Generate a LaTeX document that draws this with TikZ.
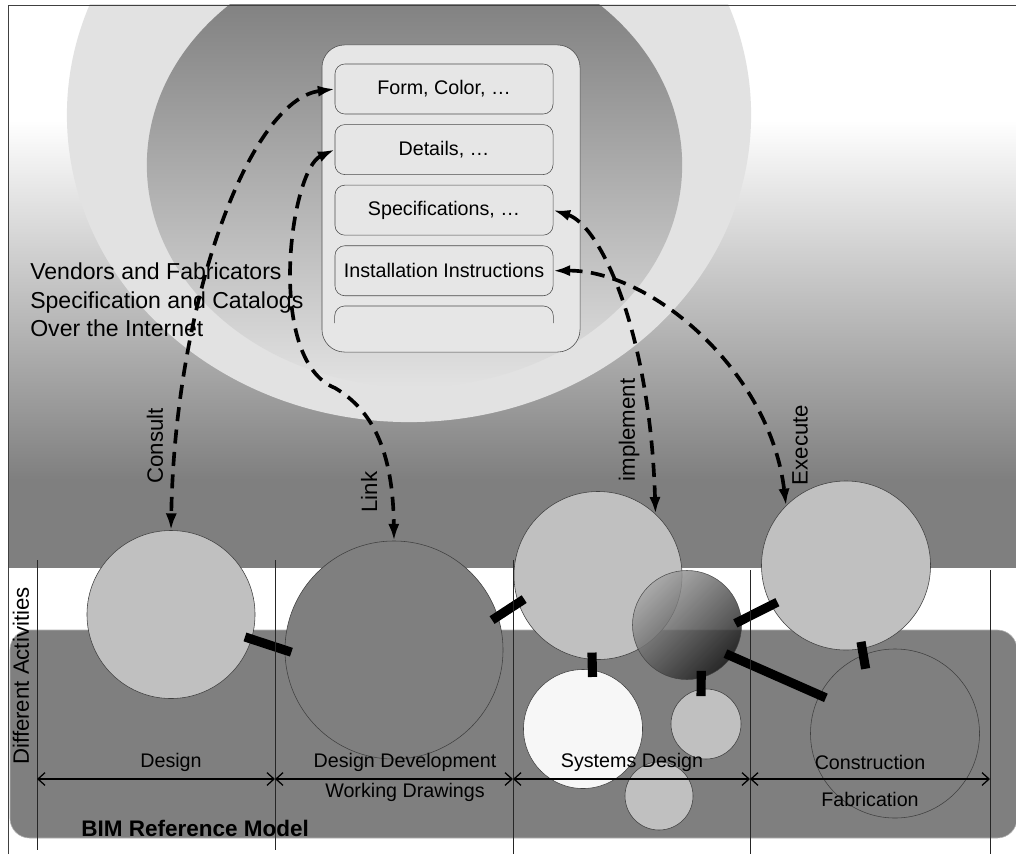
\documentclass[tikz,border=0pt]{standalone}
\usepackage{fontspec}
\setmainfont{Liberation Sans}
\usepackage{tikz}
\usetikzlibrary{positioning, shapes.geometric, arrows.meta, calc}

\definecolor{bggray}{HTML}{7F7F7F}
\definecolor{halo}{HTML}{E2E2E2}
\definecolor{boxfill}{HTML}{E6E6E6}
\definecolor{lightdisc}{HTML}{C0C0C0}

\begin{document}
\begin{tikzpicture}[
    x=0.025cm, y=-0.025cm,
    node distance=0.25cm,
    itembox/.style={rectangle, draw=black!70, fill=boxfill, rounded corners=7pt, minimum width=5.45cm, minimum height=1.25cm, inner sep=0pt, font=\fontsize{14}{16}\selectfont},
    disc/.style={circle, draw=black!75, thin, inner sep=0pt},
    dasharrow/.style={{Latex[length=12pt,width=8pt]}-{Latex[length=12pt,width=8pt]}, line width=2.6pt, dash pattern=on 10pt off 6pt},
    stub/.style={line width=6.5pt, shorten <=-5pt, shorten >=-5pt},
    spanarrow/.style={{Straight Barb[length=5pt,width=9pt]}-{Straight Barb[length=5pt,width=9pt]}, line width=0.9pt},
    verblabel/.style={rotate=90, inner sep=0pt, font=\fontsize{15.8}{18}\selectfont},
    phaselabel/.style={inner sep=0pt, font=\fontsize{14}{16}\selectfont}
]
\useasboundingbox (0,0) rectangle (1016,854);
\fill[white] (0,0) rectangle (1016,854);

% Background
\begin{scope}
\clip (8,5) rectangle (1016,854);
\shade[top color=white, bottom color=bggray] (8,120) rectangle (1016,480);
\fill[bggray] (8,479) rectangle (1016,568);
\fill[halo] (409,115) ellipse [x radius=8.55cm, y radius=7.675cm];
\shade[top color=black!55, bottom color=halo] (414.5,165) ellipse [x radius=6.69cm, y radius=5.55cm];
\filldraw[fill=bggray, draw=black!30, rounded corners=14pt] (10,630) rectangle (1017,838);
\end{scope}
\draw[black!75] (8,854) -- (8,5) -- (1016,5);

% Catalog panel
\node[draw=black!70, fill=boxfill, rounded corners=16pt, minimum width=6.45cm, minimum height=7.675cm] (panel) at (451,198.5) {};
\node[itembox] (form) at (444,89) {Form, Color, …};
\node[itembox, below=of form] (det) {Details, …};
\node[itembox, below=of det] (spec) {Specifications, …};
\node[itembox, below=of spec] (inst) {Installation Instructions};
\draw[black!70, rounded corners=7pt] ($(inst.south west)+(0,27)$) |- ($(inst.south)+(0,10)$) -| ($(inst.south east)+(0,27)$);

\node[anchor=north west, align=left, inner sep=0pt, font=\fontsize{16.4}{20}\selectfont] (src) at (30,263) {Vendors and Fabricators\\Specification and Catalogs\\Over the Internet};

% Activities
\node[disc, fill=lightdisc, minimum size=4.2cm] (des) at (171,614.5) {};
\node[disc, fill=bggray, minimum size=5.45cm] (dd) at (394,650) {};
\node[disc, fill=lightdisc, minimum size=4.2cm] (sys) at (598,575.5) {};
\node[disc, fill=white!97!black, minimum size=2.975cm] (wht) at (583,729) {};
\node[disc, fill=lightdisc, minimum size=1.75cm] (duct) at (706,724) {};
\node[disc, fill=lightdisc, minimum size=1.7cm] (low) at (659,796) {};
\node[disc, top color=black!35, bottom color=black!90, shading angle=45, opacity=0.85, minimum size=2.725cm] (hub) at (687,625) {};
\node[disc, fill=lightdisc, minimum size=4.225cm] (cons) at (846,565.5) {};
\node[disc, fill=bggray, minimum size=4.225cm] (fab) at (895,733.5) {};

% Joints
\draw[stub] (des.-17) -- (dd.180);
\draw[stub] (dd.18) -- (sys.199);
\draw[stub] (sys.-94) -- (wht.81);
\draw[stub] (hub.5) -- (cons.208);
\draw[stub] (hub.-75) -- (duct.98);
\draw[stub] (hub.-35) -- (fab.153);
\draw[stub, shorten >=-10pt] (cons.-79) -- (fab.112);

% Phases
\draw[black!85] (37,560) -- (37,850);
\draw[black!85] (275,560) -- (275,850);
\draw[black!85] (513,560) -- (513,854);
\draw[black!85] (750,570) -- (750,854);
\draw[black!85] (990,570) -- (990,854);
\coordinate (m1) at (37,779);
\coordinate (m2) at (275,779);
\coordinate (m3) at (513,779);
\coordinate (m4) at (750,779);
\coordinate (m5) at (990,779);
\draw[spanarrow] (m1) -- (m2);
\draw[spanarrow] (m2) -- (m3);
\draw[spanarrow] (m3) -- (m4);
\draw[spanarrow] (m4) -- (m5);
\node[phaselabel] (design) at (171,762) {Design};
\node[phaselabel] (devel) at (405,762) {Design Development};
\node[phaselabel] (sysdes) at (632,762) {Systems Design};
\node[phaselabel] (constr) at (870,762) {Construction};
\node[phaselabel] (wd) at (405,792) {Working Drawings};
\node[phaselabel] (fabr) at (870,799) {Fabrication};
\node[anchor=west, inner sep=0pt, font=\bfseries\fontsize{16}{18}\selectfont] (bim) at (81,828) {BIM Reference Model};
\node[verblabel] (diff) at (21,676) {Different Activities};

% Arrows
\coordinate (lk) at (335,388);
\draw[dasharrow] (form.west) .. controls (250,100) and (175,300) .. (des.north);
\draw[dasharrow] (det.west) .. controls (290,170) and (265,360) .. (lk) .. controls (372,410) and (393,450) .. (dd.north);
\draw[dasharrow] (spec.east) .. controls (600,225) and (650,330) .. (sys.47);
\draw[dasharrow] (inst.east) .. controls (650,270) and (770,370) .. (cons.135);
\node[verblabel] (consult) at (155,446) {Consult};
\node[verblabel] (linklbl) at (369,492) {Link};
\node[verblabel] (impl) at (629,430) {implement};
\node[verblabel] (exec) at (800,445) {Execute};

\end{tikzpicture}
\end{document}
